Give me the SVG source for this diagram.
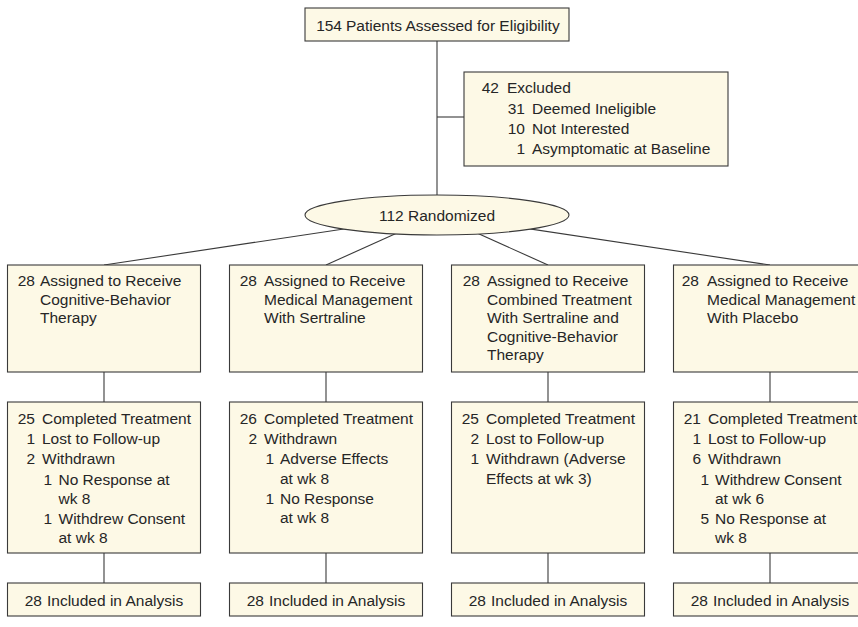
<svg xmlns="http://www.w3.org/2000/svg" width="858" height="627" viewBox="0 0 858 627">
<style>
.box{fill:#FDF9E6;stroke:#3a3a3a;stroke-width:1.1}
.ln{stroke:#3a3a3a;stroke-width:1.1;fill:none}
text{font-family:"Liberation Sans",Arial,sans-serif;font-size:15.5px;fill:#262626}
.n{text-anchor:end}
.c{text-anchor:middle}
</style>
<rect width="858" height="627" fill="#ffffff"/>
<g id="connectors">
<line class="ln" x1="437" y1="41" x2="437" y2="195"/>
<line class="ln" x1="437" y1="117" x2="464" y2="117"/>
<line class="ln" x1="437" y1="215" x2="104" y2="265"/>
<line class="ln" x1="437" y1="215" x2="326" y2="265"/>
<line class="ln" x1="437" y1="215" x2="548" y2="265"/>
<line class="ln" x1="437" y1="215" x2="770" y2="265"/>
<line class="ln" x1="104" y1="372" x2="104" y2="402"/>
<line class="ln" x1="326" y1="372" x2="326" y2="402"/>
<line class="ln" x1="548" y1="372" x2="548" y2="402"/>
<line class="ln" x1="770" y1="372" x2="770" y2="402"/>
<line class="ln" x1="104" y1="553" x2="104" y2="583"/>
<line class="ln" x1="326" y1="553" x2="326" y2="583"/>
<line class="ln" x1="548" y1="553" x2="548" y2="583"/>
<line class="ln" x1="770" y1="553" x2="770" y2="583"/>
</g>
<g id="assessed">
<rect class="box" x="305" y="8" width="264" height="33"/>
<text x="342" y="31" class="n">154</text><text x="346" y="31">Patients Assessed for Eligibility</text>
</g>
<g id="excluded">
<rect class="box" x="464" y="72" width="264" height="94"/>
<text x="499" y="93" class="n">42</text><text x="507" y="93">Excluded</text>
<text x="525" y="114" class="n">31</text><text x="532" y="114">Deemed Ineligible</text>
<text x="525" y="133.5" class="n">10</text><text x="532" y="133.5">Not Interested</text>
<text x="525" y="153.5" class="n">1</text><text x="532" y="153.5">Asymptomatic at Baseline</text>
</g>
<g id="randomized">
<ellipse class="box" cx="437" cy="215" rx="132" ry="20"/>
<text x="437" y="221" class="c">112 Randomized</text>
</g>
<g id="assign-cbt">
<rect class="box" x="7.5" y="265" width="193" height="107"/>
<text x="35" y="286" class="n">28</text><text x="40" y="286">Assigned to Receive</text>
<text x="40" y="304.5">Cognitive-Behavior</text>
<text x="40" y="323">Therapy</text>
</g>
<g id="assign-ser">
<rect class="box" x="229.5" y="265" width="193" height="107"/>
<text x="257" y="286" class="n">28</text><text x="264" y="286">Assigned to Receive</text>
<text x="264" y="304.5">Medical Management</text>
<text x="264" y="323">With Sertraline</text>
</g>
<g id="assign-comb">
<rect class="box" x="451.5" y="265" width="193" height="107"/>
<text x="480" y="286" class="n">28</text><text x="487" y="286">Assigned to Receive</text>
<text x="487" y="304.5">Combined Treatment</text>
<text x="487" y="323">With Sertraline and</text>
<text x="487" y="341.5">Cognitive-Behavior</text>
<text x="487" y="360">Therapy</text>
</g>
<g id="assign-pla">
<rect class="box" x="673.5" y="265" width="193" height="107"/>
<text x="699" y="286" class="n">28</text><text x="707" y="286">Assigned to Receive</text>
<text x="707" y="304.5">Medical Management</text>
<text x="707" y="323">With Placebo</text>
</g>
<g id="comp-cbt">
<rect class="box" x="7.5" y="402" width="193" height="151"/>
<text x="35" y="423.5" class="n">25</text><text x="42" y="423.5">Completed Treatment</text>
<text x="35" y="444" class="n">1</text><text x="42" y="444">Lost to Follow-up</text>
<text x="35" y="464" class="n">2</text><text x="42" y="464">Withdrawn</text>
<text x="52" y="484.5" class="n">1</text><text x="58.5" y="484.5">No Response at</text>
<text x="58.5" y="503.5">wk 8</text>
<text x="52" y="523.5" class="n">1</text><text x="58.5" y="523.5">Withdrew Consent</text>
<text x="58.5" y="542.5">at wk 8</text>
</g>
<g id="comp-ser">
<rect class="box" x="229.5" y="402" width="193" height="151"/>
<text x="257" y="423.5" class="n">26</text><text x="264" y="423.5">Completed Treatment</text>
<text x="257" y="444" class="n">2</text><text x="264" y="444">Withdrawn</text>
<text x="274" y="464" class="n">1</text><text x="280" y="464">Adverse Effects</text>
<text x="280" y="483.5">at wk 8</text>
<text x="274" y="503.5" class="n">1</text><text x="280" y="503.5">No Response</text>
<text x="280" y="522.5">at wk 8</text>
</g>
<g id="comp-comb">
<rect class="box" x="451.5" y="402" width="193" height="151"/>
<text x="479" y="423.5" class="n">25</text><text x="486" y="423.5">Completed Treatment</text>
<text x="479" y="444" class="n">2</text><text x="486" y="444">Lost to Follow-up</text>
<text x="479" y="464" class="n">1</text><text x="486" y="464">Withdrawn (Adverse</text>
<text x="486" y="483.5">Effects at wk 3)</text>
</g>
<g id="comp-pla">
<rect class="box" x="673.5" y="402" width="193" height="151"/>
<text x="701" y="423.5" class="n">21</text><text x="708" y="423.5">Completed Treatment</text>
<text x="701" y="444" class="n">1</text><text x="708" y="444">Lost to Follow-up</text>
<text x="701" y="464" class="n">6</text><text x="708" y="464">Withdrawn</text>
<text x="709" y="484.5" class="n">1</text><text x="715" y="484.5">Withdrew Consent</text>
<text x="715" y="503.5">at wk 6</text>
<text x="709" y="523.5" class="n">5</text><text x="715" y="523.5">No Response at</text>
<text x="715" y="542.5">wk 8</text>
</g>
<g id="incl-cbt">
<rect class="box" x="7.5" y="583" width="193" height="33"/>
<text x="42" y="606" class="n">28</text><text x="47" y="606">Included in Analysis</text>
</g>
<g id="incl-ser">
<rect class="box" x="229.5" y="583" width="193" height="33"/>
<text x="264" y="606" class="n">28</text><text x="269" y="606">Included in Analysis</text>
</g>
<g id="incl-comb">
<rect class="box" x="451.5" y="583" width="193" height="33"/>
<text x="486" y="606" class="n">28</text><text x="491" y="606">Included in Analysis</text>
</g>
<g id="incl-pla">
<rect class="box" x="673.5" y="583" width="193" height="33"/>
<text x="708" y="606" class="n">28</text><text x="713" y="606">Included in Analysis</text>
</g>
</svg>
